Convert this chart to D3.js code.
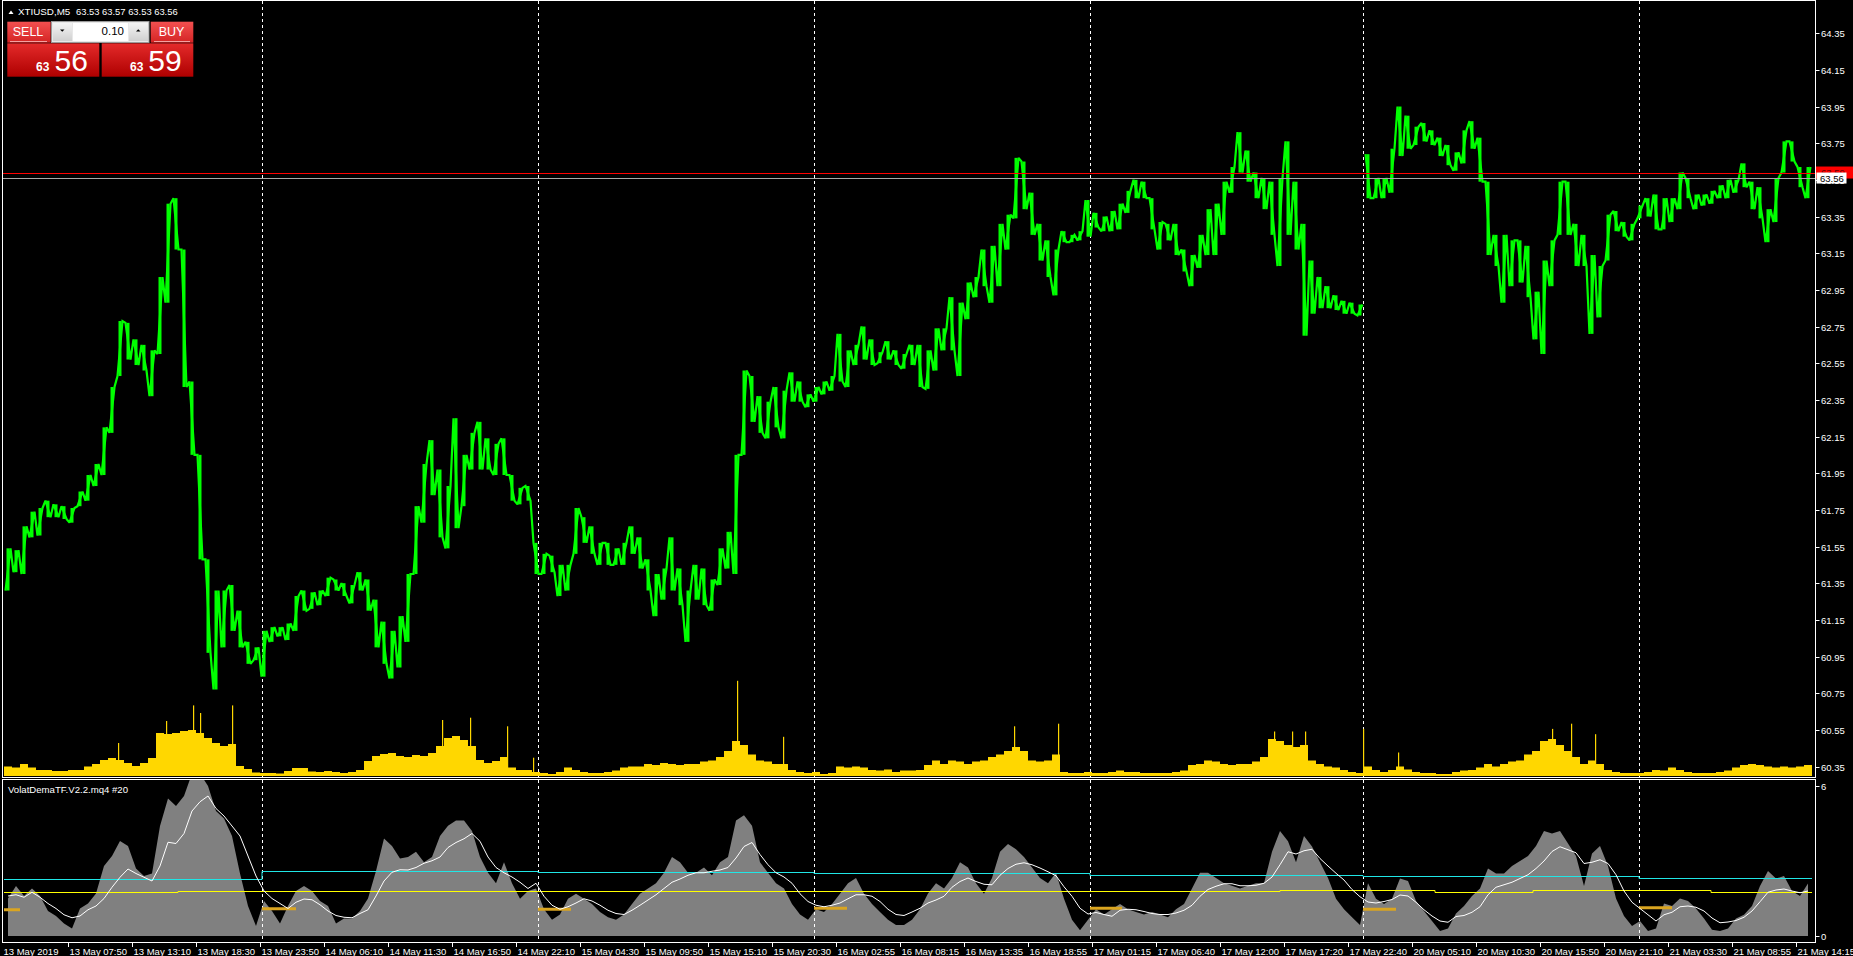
<!DOCTYPE html>
<html><head><meta charset="utf-8">
<script src="https://d3js.org/d3.v7.min.js"></script>
<style>html,body{margin:0;padding:0;background:#000;overflow:hidden}svg{display:block;font-family:"Liberation Sans",Arial,sans-serif}</style>
</head><body>
<svg id="c" width="1853" height="956"></svg>
<script>
// ---------------- DATA ----------------
const BARS_PER_POINT = 8;               // each value below summarises 8 five-minute bars
const symbolTitle = "XTIUSD,M5";
const quoteTitle = "63.53 63.57 63.53 63.56";
const bidPrice = 63.56, askPrice = 63.59;
const lotSize = "0.10";
const indicatorName = "VolatDemaTF.V2.2.mq4 #20";
const priceTicks = ["64.35","64.15","63.95","63.75","63.55","63.35","63.15","62.95","62.75","62.55","62.35","62.15","61.95","61.75","61.55","61.35","61.15","60.95","60.75","60.55","60.35"];
const indicatorTicks = ["6","0"];
const timeLabels = ["13 May 2019","13 May 07:50","13 May 13:10","13 May 18:30","13 May 23:50","14 May 06:10","14 May 11:30","14 May 16:50","14 May 22:10","15 May 04:30","15 May 09:50","15 May 15:10","15 May 20:30","16 May 02:55","16 May 08:15","16 May 13:35","16 May 18:55","17 May 01:15","17 May 06:40","17 May 12:00","17 May 17:20","17 May 22:40","20 May 05:10","20 May 10:30","20 May 15:50","20 May 21:10","21 May 03:30","21 May 08:55","21 May 14:15"];
const barsPerTimeLabel = 64;
const daySeparators = [258,534,810,1086,1359,1635];   // bar index of each new day

const priceHigh = [61.54,61.53,61.66,61.74,61.76,61.80,61.78,61.77,61.76,61.85,
61.94,62.00,62.20,62.42,62.78,62.77,62.68,62.65,62.62,63.02,
63.42,63.45,63.17,62.45,62.05,61.48,61.31,61.31,61.34,61.20,
61.03,61.00,61.09,61.11,61.11,61.13,61.28,61.31,61.30,61.31,
61.38,61.37,61.35,61.34,61.41,61.37,61.26,61.14,61.09,61.17,
61.40,61.77,62.00,62.13,61.97,61.88,62.25,62.05,62.17,62.23,
62.14,62.11,62.14,61.94,61.87,61.88,61.57,61.51,61.50,61.45,
61.45,61.76,61.71,61.66,61.57,61.57,61.54,61.57,61.66,61.60,
61.48,61.40,61.43,61.60,61.43,61.31,61.45,61.43,61.37,61.54,
61.63,62.05,62.51,62.48,62.37,62.34,62.42,62.40,62.50,62.45,
62.38,62.42,62.45,62.48,62.71,62.62,62.65,62.75,62.68,62.61,
62.67,62.62,62.60,62.65,62.65,62.62,62.74,62.74,62.91,62.88,
62.99,63.02,63.17,63.19,63.31,63.36,63.67,63.65,63.48,63.31,
63.22,63.17,63.27,63.25,63.27,63.44,63.37,63.35,63.38,63.42,
63.49,63.55,63.54,63.45,63.32,63.31,63.31,63.17,63.14,63.25,
63.39,63.42,63.54,63.62,63.81,63.71,63.59,63.56,63.54,63.56,
63.76,63.54,63.31,63.11,63.02,62.97,62.92,62.89,62.88,62.87,
63.69,63.56,63.56,63.72,63.95,63.90,63.84,63.86,63.82,63.78,
63.74,63.70,63.82,63.87,63.78,63.54,63.25,63.25,63.22,63.22,
63.19,62.94,63.11,63.22,63.54,63.54,63.31,63.25,63.14,63.08,
63.36,63.38,63.32,63.31,63.41,63.45,63.47,63.45,63.45,63.59,
63.56,63.47,63.47,63.49,63.52,63.55,63.55,63.64,63.54,63.51,
63.39,63.56,63.76,63.76,63.62,63.62];
const priceLow = [61.31,61.41,61.40,61.60,61.61,61.71,61.71,61.70,61.68,61.77,
61.80,61.88,61.94,62.17,62.48,62.57,62.54,62.51,62.37,62.60,
62.88,63.17,62.42,62.05,61.48,60.97,60.77,61.00,61.09,61.00,
60.91,60.93,60.84,61.03,61.06,61.04,61.09,61.20,61.21,61.23,
61.28,61.31,61.28,61.24,61.31,61.20,61.00,60.91,60.83,60.89,
61.03,61.40,61.68,61.83,61.60,61.54,61.65,61.77,61.97,61.97,
61.97,61.94,61.94,61.80,61.78,61.80,61.40,61.40,61.41,61.28,
61.31,61.51,61.57,61.51,61.45,61.45,61.45,61.45,61.51,61.43,
61.31,61.17,61.26,61.31,61.23,61.03,61.26,61.23,61.20,61.34,
61.43,61.40,62.05,62.23,62.17,62.14,62.20,62.14,62.34,62.34,
62.31,62.34,62.38,62.40,62.45,62.42,62.54,62.57,62.54,62.55,
62.57,62.54,62.52,62.54,62.42,62.41,62.51,62.62,62.62,62.48,
62.79,62.91,62.97,62.88,62.97,63.17,63.34,63.39,63.25,63.11,
63.02,62.92,63.21,63.21,63.22,63.24,63.29,63.27,63.27,63.28,
63.37,63.45,63.45,63.28,63.17,63.22,63.14,63.05,62.97,63.07,
63.14,63.14,63.25,63.48,63.59,63.54,63.45,63.39,63.25,63.08,
63.25,63.17,62.70,62.82,62.85,62.85,62.84,62.82,62.82,62.81,
63.45,63.45,63.45,63.48,63.68,63.72,63.74,63.76,63.74,63.68,
63.63,63.60,63.64,63.72,63.54,63.14,63.08,62.88,62.97,62.99,
62.91,62.68,62.60,62.97,63.25,63.25,63.08,63.08,62.71,62.80,
63.11,63.27,63.24,63.22,63.34,63.35,63.28,63.28,63.32,63.39,
63.45,63.39,63.41,63.42,63.45,63.45,63.48,63.51,63.39,63.34,
63.21,63.32,63.59,63.65,63.51,63.45];

const tickVolume = [95,85,120,85,60,60,50,50,60,60,
95,120,160,180,160,130,100,130,180,430,
420,430,450,460,430,380,330,300,320,100,
70,35,30,30,25,50,80,80,45,40,
50,40,30,40,60,150,200,220,230,200,
190,210,200,230,300,380,400,360,300,160,
130,150,190,85,60,60,40,30,20,40,
85,60,40,30,30,40,55,85,95,95,
120,110,130,120,110,120,120,145,155,190,
250,350,310,215,155,145,120,120,60,40,
30,40,20,30,95,85,95,85,60,55,
65,40,55,55,60,110,155,120,155,145,
120,145,155,190,215,250,290,250,155,145,
155,215,40,30,30,40,30,30,40,55,
40,40,30,30,30,30,40,55,110,120,
155,145,120,110,120,120,145,190,370,350,
310,290,310,155,120,95,85,60,40,30,
95,60,40,60,95,65,40,30,30,20,
20,40,55,60,85,120,95,120,145,155,
215,250,350,370,310,250,190,120,155,120,
60,40,30,30,30,40,60,55,85,60,
40,30,30,30,40,55,85,110,120,110,
95,85,95,85,95,110];
const volumeSpikes = [[114,330],[152,420],[162,550],[189,706],[196,630],[228,706],[438,560],[466,583],[503,497],[529,183],[733,952],[779,392],[1010,497],[1054,523],[1270,445],[1288,445],[1301,445],[1359,471],[1394,235],[1548,471],[1567,523],[1591,418]];

const volatHistogram = [1.5,2.0,1.6,1.9,1.6,1.0,0.8,0.5,0.3,1.1,
1.3,1.7,2.8,3.2,3.8,3.6,2.7,2.4,2.5,4.4,
5.5,5.2,5.6,6.5,6.5,6.0,5.0,4.7,4.0,2.5,
1.2,0.4,1.4,1.0,0.5,1.2,1.8,2.0,1.8,1.4,
1.2,0.5,0.7,0.7,1.0,1.5,2.6,3.9,3.6,3.1,
3.16,3.37,2.95,3.16,4.00,4.41,4.62,4.62,4.20,3.16,
2.53,2.11,2.95,2.11,1.49,1.80,1.90,1.07,0.65,0.86,
1.49,1.69,1.49,1.28,0.96,0.75,0.65,0.86,1.28,1.69,
1.90,2.11,2.53,3.16,2.95,2.53,2.53,2.74,2.43,2.95,
3.16,4.62,4.83,4.41,2.95,2.53,2.11,1.90,1.28,0.86,
0.65,1.07,0.96,1.28,1.69,2.11,2.32,1.69,1.28,0.96,
0.65,0.44,0.44,0.65,1.07,1.70,2.11,1.90,2.32,2.95,
2.74,2.11,1.69,2.32,3.37,3.68,3.47,3.16,2.74,2.32,
2.11,2.53,1.49,0.65,0.23,0.65,1.07,0.86,1.07,1.28,
1.07,0.96,0.86,0.96,0.86,0.75,1.07,1.28,1.90,2.53,
2.53,2.32,2.11,2.01,1.90,2.01,2.11,2.11,3.37,4.20,
3.79,2.95,4.00,3.58,2.95,2.32,1.49,1.07,0.75,0.44,
2.11,1.49,1.28,1.49,2.3,2.2,1.4,1.0,0.6,0.2,
0.3,0.9,1.2,1.6,1.9,2.7,2.5,2.5,2.8,3.0,
3.2,3.6,4.2,4.1,4.2,3.7,3.2,2.0,3.3,3.6,
2.8,1.5,0.8,0.4,0.6,0.2,0.3,1.3,1.2,1.5,
1.4,1.1,0.7,0.25,0.2,0.3,0.7,0.85,1.2,2.0,
2.6,2.3,2.4,1.8,1.6,2.1];
const volatSignal = [1.6,1.65,1.55,1.75,1.55,1.3,1.1,0.85,0.73,0.8,
1.05,1.2,1.5,1.95,2.35,2.68,2.5,2.35,2.2,2.8,
3.75,3.7,4.1,5.0,5.37,5.6,5.1,4.8,4.4,4.0,
3.2,2.4,1.8,1.5,1.3,1.1,1.35,1.48,1.45,1.25,
1.0,0.82,0.75,0.73,0.9,1.05,1.6,2.2,2.55,2.65,
2.64,2.74,2.91,3.01,3.16,3.54,3.74,3.89,4.10,3.79,
3.16,2.74,2.53,2.36,2.15,1.90,2.11,1.59,1.23,1.07,
1.17,1.32,1.49,1.40,1.23,1.03,0.90,0.86,1.03,1.23,
1.44,1.65,1.90,2.15,2.28,2.43,2.53,2.53,2.59,2.64,
2.74,3.12,3.58,3.74,3.26,2.85,2.53,2.36,2.11,1.69,
1.38,1.23,1.17,1.23,1.32,1.49,1.65,1.65,1.59,1.38,
1.07,0.86,0.82,0.96,1.11,1.32,1.44,1.59,1.95,2.18,
2.32,2.18,2.07,2.05,2.43,2.70,2.87,2.93,2.85,2.72,
2.57,2.41,1.97,1.59,1.11,0.88,0.94,0.86,0.79,1.03,
1.07,1.05,0.98,0.90,0.86,0.86,0.92,1.03,1.23,1.59,
1.86,1.99,2.09,2.09,2.01,2.01,2.03,2.11,2.36,2.85,
3.37,3.28,3.41,3.47,3.10,2.80,2.51,2.24,1.86,1.57,
1.36,1.32,1.38,1.46,1.64,1.6,1.35,1.05,0.8,0.6,
0.55,0.78,0.82,0.95,1.17,1.65,1.95,2.05,2.15,2.3,
2.45,2.7,3.0,3.38,3.57,3.45,3.33,2.9,2.95,3.05,
2.9,2.45,1.8,1.35,1.1,0.85,0.6,0.85,0.95,1.17,
1.2,1.15,1.0,0.72,0.53,0.56,0.62,0.75,1.0,1.37,
1.75,1.84,1.88,1.8,1.73,1.8];
// [startBar, endBar, level]
const cyanLevels = [[0,258,2.29],[258,534,2.59],[534,810,2.55],[810,1086,2.50],[1086,1359,2.46],[1359,1635,2.39],[1635,1808,2.33]];
const yellowLevels = [[0,174,1.75],[174,441,1.79],[441,1137,1.81],[1137,1276,1.79],[1276,1431,1.84],[1431,1529,1.77],[1529,1707,1.84],[1707,1808,1.77]];
const orangeLevels = [[0,16,1.05],[258,292,1.09],[534,567,1.07],[810,843,1.11],[1086,1118,1.11],[1359,1392,1.07],[1635,1668,1.13]];

// ---------------- DRAW ----------------
const svg = d3.select("#c");
const TOTAL_BARS = priceHigh.length * BARS_PER_POINT;
const x = d3.scaleLinear().domain([0, TOTAL_BARS]).range([4, 4 + TOTAL_BARS]);
const y = d3.scaleLinear().domain([60.35, 64.35]).range([766.5, 33.2]);
const yVol = d3.scaleLinear().domain([0, 1000]).range([776, 676]);
const yInd = d3.scaleLinear().domain([0, 6]).range([936, 786]);
const AXIS_X = 1815.5;
const FONT = "9.5px";
const cx = i => x(i*BARS_PER_POINT + BARS_PER_POINT/2);
const bw = x(BARS_PER_POINT) - x(0);
const weekendBlock = Math.ceil(daySeparators[4] / BARS_PER_POINT);

svg.append("rect").attr("width",1853).attr("height",956).attr("fill","#000");
const defs = svg.append("defs");
defs.append("clipPath").attr("id","clipMain").append("rect").attr("x",3).attr("y",1).attr("width",1812).attr("height",776);
defs.append("clipPath").attr("id","clipSub").append("rect").attr("x",3).attr("y",780).attr("width",1812).attr("height",162);

const gMain = svg.append("g").attr("clip-path","url(#clipMain)");
const gSub = svg.append("g").attr("clip-path","url(#clipSub)");

// day separators (behind series)
daySeparators.forEach(b => {
  const xx = Math.round(x(b)) + 0.5;
  gMain.append("line").attr("x1",xx).attr("x2",xx).attr("y1",1).attr("y2",777)
    .attr("stroke","#fff").attr("stroke-dasharray","3,3");
});

// volumes
gMain.append("g").selectAll("rect").data(tickVolume).join("rect")
  .attr("x",(d,i)=>x(i*BARS_PER_POINT)).attr("width",bw)
  .attr("y",d=>yVol(d)).attr("height",d=>yVol(0)-yVol(d)).attr("fill","#FFD700");
gMain.append("g").selectAll("rect").data(volumeSpikes).join("rect")
  .attr("x",d=>x(d[0])).attr("width",1.2)
  .attr("y",d=>yVol(d[1])).attr("height",d=>yVol(0)-yVol(d[1])).attr("fill","#FFD700");

// price: a vertical high-low bar per 8-bar group, joined by a line that visits
// the group's low and high in the order given by the direction to the next group
const pricePts = seg => {
  const pts = [];
  seg.forEach((i, k) => {
    const h = priceHigh[i], l = priceLow[i];
    const nxt = k < seg.length-1 ? seg[k+1] : i;
    const up = (priceHigh[nxt] + priceLow[nxt]) >= (h + l);
    const x0 = x(i*BARS_PER_POINT) + 1.5, x1 = x(i*BARS_PER_POINT) + bw - 1.5;
    if (up) { pts.push([x0, y(l)], [x1, y(h)]); } else { pts.push([x0, y(h)], [x1, y(l)]); }
  });
  return pts;
};
gMain.append("g").selectAll("rect").data(priceHigh).join("rect")
  .attr("x",(d,i)=>cx(i)-1.5).attr("width",3)
  .attr("y",d=>y(d)).attr("height",(d,i)=>Math.max(1, y(priceLow[i])-y(d)))
  .attr("fill","#00FF00");
const idx = d3.range(priceHigh.length);
[idx.filter(i=>i<weekendBlock), idx.filter(i=>i>=weekendBlock)].forEach(seg => {
  gMain.append("path").attr("d", d3.line()(pricePts(seg))).attr("fill","none")
    .attr("stroke","#00FF00").attr("stroke-width",2.2).attr("stroke-linejoin","miter").attr("stroke-miterlimit",2);
});

// ask / bid lines
gMain.append("line").attr("x1",3).attr("x2",1815).attr("y1",Math.round(y(askPrice))+0.5).attr("y2",Math.round(y(askPrice))+0.5).attr("stroke","#FF0000");
gMain.append("line").attr("x1",3).attr("x2",1815).attr("y1",Math.round(y(bidPrice))+0.5).attr("y2",Math.round(y(bidPrice))+0.5).attr("stroke","#A8A8A8");

// ---- indicator window ----
const histArea = d3.area().x((d,i)=>cx(i)).y0(yInd(0)).y1(d=>yInd(d));
gSub.append("path").attr("d", histArea(volatHistogram)).attr("fill","#808080");
daySeparators.forEach(b => {
  const xx = Math.round(x(b)) + 0.5;
  gSub.append("line").attr("x1",xx).attr("x2",xx).attr("y1",780).attr("y2",942)
    .attr("stroke","#fff").attr("stroke-dasharray","3,3");
});
const stepPath = levels => {
  const pts = levels.map(l=>[l[0],l[2]]);
  const last = levels[levels.length-1];
  pts.push([last[1], last[2]]);
  return d3.line().x(d=>x(d[0])).y(d=>Math.round(yInd(d[1]))+0.5).curve(d3.curveStepAfter)(pts);
};
gSub.append("path").attr("d",stepPath(cyanLevels)).attr("fill","none").attr("stroke","#20E6E6").attr("stroke-width",1);
gSub.append("path").attr("d",stepPath(yellowLevels)).attr("fill","none").attr("stroke","#FFFF00").attr("stroke-width",1);
gSub.append("g").selectAll("line").data(orangeLevels).join("line")
  .attr("x1",d=>x(d[0])).attr("x2",d=>x(d[1])).attr("y1",d=>yInd(d[2])).attr("y2",d=>yInd(d[2]))
  .attr("stroke","#DAA520").attr("stroke-width",3);
gSub.append("path")
  .attr("d", d3.line().x((d,i)=>cx(i)).y(d=>yInd(d))(volatSignal))
  .attr("fill","none").attr("stroke","#fff").attr("stroke-width",1);

// ---- frames ----
svg.append("rect").attr("x",2.5).attr("y",0.5).attr("width",AXIS_X-2.5).attr("height",777).attr("fill","none").attr("stroke","#fff");
svg.append("rect").attr("x",2.5).attr("y",779.5).attr("width",AXIS_X-2.5).attr("height",163).attr("fill","none").attr("stroke","#fff");

// ---- right price axis ----
priceTicks.forEach(t => {
  const yy = Math.round(y(+t)) + 0.5;
  svg.append("line").attr("x1",AXIS_X).attr("x2",AXIS_X+4).attr("y1",yy).attr("y2",yy).attr("stroke","#fff");
  svg.append("text").attr("x",1821).attr("y",yy+3.5).attr("fill","#fff").style("font-size",FONT).text(t);
});
indicatorTicks.forEach(t => {
  const yy = Math.round(yInd(+t)) + 0.5;
  svg.append("line").attr("x1",AXIS_X).attr("x2",AXIS_X+4).attr("y1",yy).attr("y2",yy).attr("stroke","#fff");
  svg.append("text").attr("x",1821).attr("y",yy+3.5).attr("fill","#fff").style("font-size",FONT).text(t);
});
// price labels (ask red, bid white)
const ya = y(askPrice), yb = y(bidPrice);
svg.append("rect").attr("x",1816).attr("y",ya-6).attr("width",37).attr("height",12).attr("fill","#FF0000");
svg.append("text").attr("x",1821).attr("y",ya+3.5).attr("fill","#6a0000").style("font-size",FONT).text(askPrice.toFixed(2));
svg.append("rect").attr("x",1816.5).attr("y",yb-5.5).attr("width",30).attr("height",11).attr("fill","#fff");
svg.append("text").attr("x",1820).attr("y",yb+3.5).attr("fill","#000").style("font-size",FONT).text(bidPrice.toFixed(2));

// ---- time axis ----
timeLabels.forEach((t,k) => {
  const xx = Math.round(x(k*barsPerTimeLabel)) + 0.5;
  if (k>0) svg.append("line").attr("x1",xx).attr("x2",xx).attr("y1",943).attr("y2",947).attr("stroke","#fff");
  svg.append("text").attr("x",k===0?3.5:xx+1).attr("y",954.5).attr("fill","#fff").style("font-size",FONT).text(t);
});

// ---- window titles ----
svg.append("text").attr("x",8).attr("y",792.5).attr("fill","#fff").style("font-size","9.6px").text(indicatorName);
svg.append("path").attr("d","M8.5,14 L13.5,14 L11,10.5 Z").attr("fill","#fff");
svg.append("text").attr("x",18).attr("y",15).attr("fill","#fff").style("font-size","9.8px").text(symbolTitle);
svg.append("text").attr("x",76).attr("y",15).attr("fill","#fff").style("font-size","9.4px").text(quoteTitle);

// ---- one-click trading panel ----
const gHead = defs.append("linearGradient").attr("id","redHead").attr("x1",0).attr("y1",0).attr("x2",0).attr("y2",1);
gHead.append("stop").attr("offset","0").attr("stop-color","#F35050");
gHead.append("stop").attr("offset","1").attr("stop-color","#D42424");
const gBody = defs.append("linearGradient").attr("id","redBody").attr("x1",0).attr("y1",0).attr("x2",0).attr("y2",1);
gBody.append("stop").attr("offset","0").attr("stop-color","#E42A2A");
gBody.append("stop").attr("offset","1").attr("stop-color","#AE0000");
const gBtn = defs.append("linearGradient").attr("id","btnGray").attr("x1",0).attr("y1",0).attr("x2",0).attr("y2",1);
gBtn.append("stop").attr("offset","0").attr("stop-color","#F4F4F4");
gBtn.append("stop").attr("offset","1").attr("stop-color","#D0D0D0");

const p = svg.append("g");
p.append("rect").attr("x",7.3).attr("y",21.7).attr("width",43.4).attr("height",21).attr("fill","url(#redHead)");
p.append("rect").attr("x",150.7).attr("y",21.7).attr("width",42.6).attr("height",21).attr("fill","url(#redHead)");
p.append("line").attr("x1",10).attr("x2",47).attr("y1",41.5).attr("y2",41.5).attr("stroke","#F6A0A0");
p.append("line").attr("x1",154).attr("x2",190).attr("y1",41.5).attr("y2",41.5).attr("stroke","#F6A0A0");
p.append("text").attr("x",28).attr("y",36).attr("text-anchor","middle").attr("fill","#fff").style("font-size","12.5px").text("SELL");
p.append("text").attr("x",171.5).attr("y",36).attr("text-anchor","middle").attr("fill","#fff").style("font-size","12.5px").text("BUY");
p.append("rect").attr("x",51.5).attr("y",21.5).attr("width",97.5).attr("height",21).attr("fill","#E8E8E8").attr("stroke","#9A9A9A");
p.append("rect").attr("x",53).attr("y",23).attr("width",19).attr("height",18).attr("fill","url(#btnGray)");
p.append("rect").attr("x",129).attr("y",23).attr("width",19).attr("height",18).attr("fill","url(#btnGray)");
p.append("rect").attr("x",73).attr("y",23).attr("width",55).attr("height",18).attr("fill","#fff");
p.append("path").attr("d","M60,29.5 L64.5,29.5 L62.25,31.8 Z").attr("fill","#000");
p.append("path").attr("d","M136,31.5 L140.5,31.5 L138.25,29.2 Z").attr("fill","#000");
p.append("text").attr("x",124).attr("y",34.5).attr("text-anchor","end").attr("fill","#000").style("font-size","11.5px").text(lotSize);
p.append("rect").attr("x",7.3).attr("y",43.3).attr("width",92).attr("height",33.4).attr("fill","url(#redBody)");
p.append("rect").attr("x",101.7).attr("y",43.3).attr("width",91.6).attr("height",33.4).attr("fill","url(#redBody)");
const bigParts = [[bidPrice, 36, 54.5],[askPrice, 130, 148.3]];
bigParts.forEach(([v, xs, xb]) => {
  const s = v.toFixed(2);
  p.append("text").attr("x",xs).attr("y",70.7).attr("fill","#fff").style("font-size","12px").style("font-weight","bold").text(s.slice(0,2));
  p.append("text").attr("x",xb).attr("y",70.7).attr("fill","#fff").style("font-size","30px").text(s.slice(3,5));
});
</script>
</body></html>
